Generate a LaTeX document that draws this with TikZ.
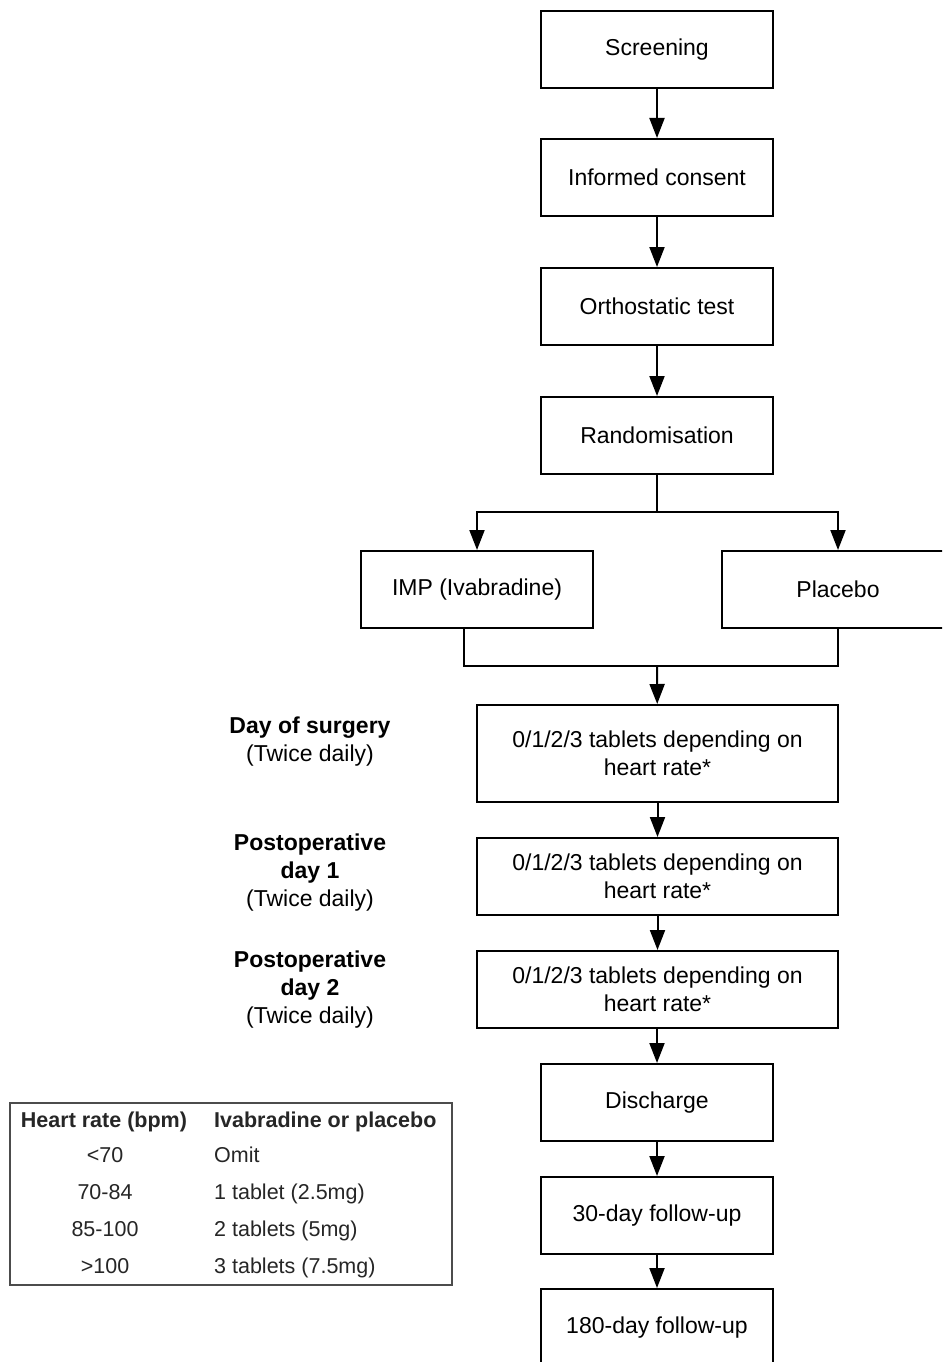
\documentclass[tikz,border=0pt]{standalone}
\usepackage{fontspec}
\setmainfont{Liberation Sans}
\usetikzlibrary{arrows.meta,calc}
\tikzset{
  box/.style={draw, line width=2pt, minimum width=232pt, minimum height=77pt, align=center, inner sep=0pt, font=\fontsize{23}{28}\selectfont},
  widebox/.style={box, minimum width=361pt},
  arr/.style={line width=2pt, -{Triangle[length=20pt,width=15pt]}},
  ln/.style={line width=2pt},
  side/.style={align=center, font=\fontsize{23}{28}\selectfont},
  tcell/.style={font=\fontsize{21.5}{24}\selectfont, text=black!85, inner sep=0pt, text height=15.5pt, text depth=4.5pt},
  thead/.style={tcell, font=\bfseries\fontsize{21.5}{24}\selectfont},
}
\begin{document}
\begin{tikzpicture}[x=1pt,y=-1pt]
\clip (0,0) rectangle (942,1362);
\fill[white] (0,0) rectangle (942,1362);
% main column
\node[box] (scr) at (657,49.5) {Screening};
\node[box] (cons) at (657,177.5) {Informed consent};
\node[box] (orth) at (657,306.5) {Orthostatic test};
\node[box] (rand) at (657,435.5) {Randomisation};
\node[box] (imp) at (477,589.5) {IMP (Ivabradine)};
\node[box] (plac) at (838,589.5) {Placebo};
\node[widebox, minimum height=97pt] (t1) at (657.5,753.5) {0/1/2/3 tablets depending on\\heart rate*};
\node[widebox] (t2) at (657.5,876.5) {0/1/2/3 tablets depending on\\heart rate*};
\node[widebox] (t3) at (657.5,989.5) {0/1/2/3 tablets depending on\\heart rate*};
\node[box] (dis) at (657,1102.5) {Discharge};
\node[box] (f30) at (657,1215.5) {30-day follow-up};
\node[box] (f180) at (657,1327.5) {180-day follow-up};
% connectors
\draw[arr] (scr) -- (cons);
\draw[arr] (cons) -- (orth);
\draw[arr] (orth) -- (rand);
\coordinate (split) at (657,512);
\draw[ln] (rand) -- (split);
\draw[arr] (split) -| (imp.north);
\draw[arr] (split) -| (plac.north);
\coordinate (impb) at ($(imp.south)+(-13,0)$);
\coordinate (merge) at (657,666);
\draw[ln] (impb) |- (merge);
\draw[ln] (plac.south) |- (merge);
\draw[arr] (merge) -- (t1);
\draw[arr] (t1) -- (t2);
\draw[arr] (t2) -- (t3);
\draw[arr] (t3.south -| dis.north) -- (dis);
\draw[arr] (dis) -- (f30);
\draw[arr] (f30) -- (f180);
% side labels
\node[side] (l1) at (310,742) {\textbf{Day of surgery}\\(Twice daily)};
\node[side] (l2) at (310,872.5) {\textbf{Postoperative}\\\textbf{day 1}\\(Twice daily)};
\node[side] (l3) at (310,990) {\textbf{Postoperative}\\\textbf{day 2}\\(Twice daily)};
% table
\node[draw=black!70, line width=1.2pt, minimum width=442pt, minimum height=182pt, inner sep=0pt] (tbl) at (231,1194) {};
\node[thead] (h1) at (104,1122) {Heart rate (bpm)};
\node[thead, anchor=west] (h2) at (214,1122) {Ivabradine or placebo};
\node[tcell] (a1) at (105,1157) {<70};
\node[tcell, anchor=west] (b1) at (214,1157) {Omit};
\node[tcell] (a2) at (105,1194) {70-84};
\node[tcell, anchor=west] (b2) at (214,1194) {1 tablet (2.5mg)};
\node[tcell] (a3) at (105,1231) {85-100};
\node[tcell, anchor=west] (b3) at (214,1231) {2 tablets (5mg)};
\node[tcell] (a4) at (105,1268) {>100};
\node[tcell, anchor=west] (b4) at (214,1268) {3 tablets (7.5mg)};
\end{tikzpicture}
\end{document}
